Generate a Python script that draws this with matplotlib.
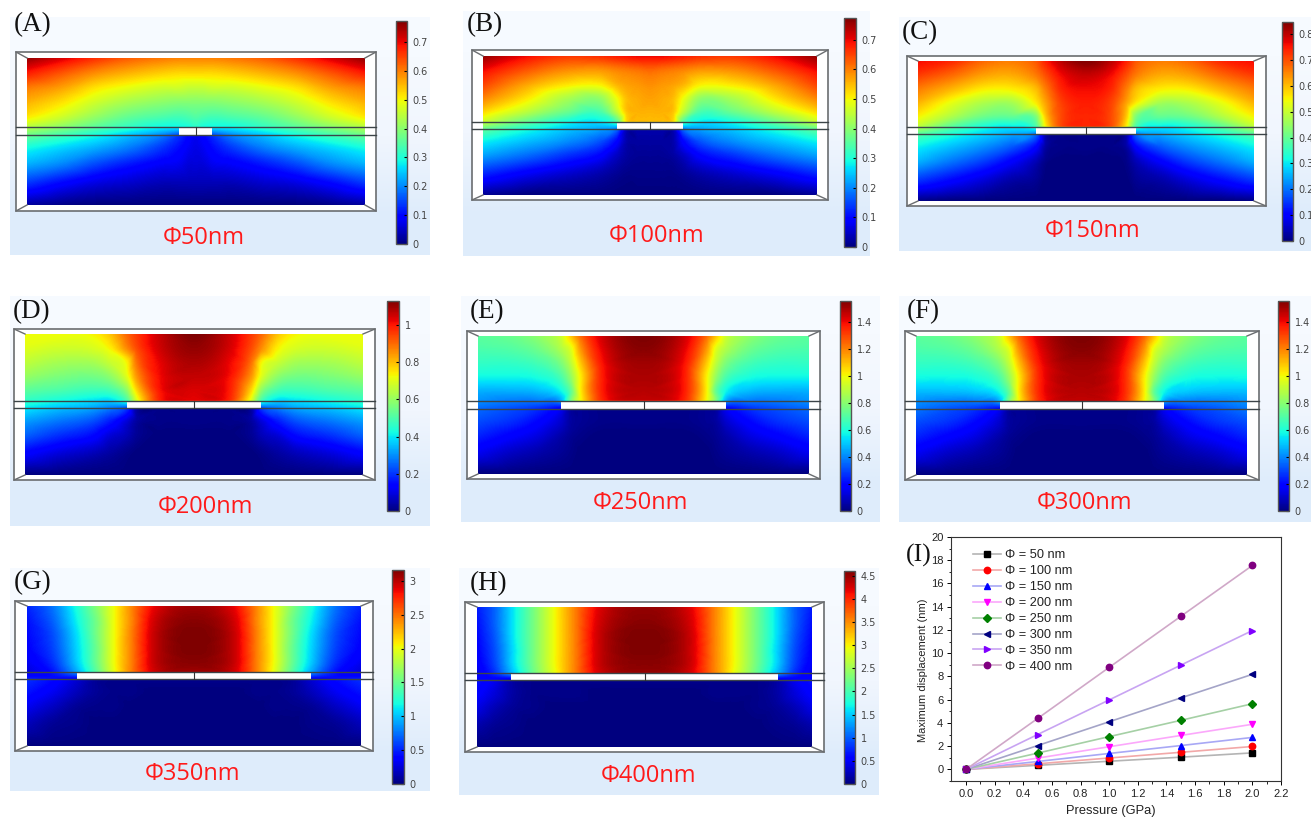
import matplotlib
matplotlib.use("Agg")
import matplotlib.pyplot as plt
from matplotlib.colors import LinearSegmentedColormap, Normalize
from matplotlib.cm import ScalarMappable
from matplotlib.patches import Rectangle
from matplotlib.tri import Triangulation, CubicTriInterpolator
import numpy as np

# rows of the field grids, 0 = top of the block, 1 = bottom
row_pos = [0, .1, .2, .3, .4, .47, .53, .62, .72, .85, 1]

# columns: 0 = left edge of the block, 1 = centre (the right half is a mirror)
cols_a = [0, .2, .4, .6, .8, .9, .96, 1]
field_a = [[.98, .92, .86, .81, .78, .77, .77, .77],
           [.88, .82, .76, .72, .69, .68, .68, .68],
           [.78, .74, .67, .63, .60, .60, .59, .59],
           [.72, .67, .60, .55, .52, .51, .51, .51],
           [.66, .60, .53, .47, .44, .43, .44, .45],
           [.57, .52, .46, .41, .37, .37, .38, .40],
           [.47, .42, .37, .31, .24, .17, .12, .10],
           [.37, .33, .29, .24, .17, .13, .10, .09],
           [.30, .26, .20, .15, .11, .10, .08, .08],
           [.18, .13, .09, .07, .05, .05, .05, .05],
           [.03, .01, 0, 0, 0, 0, 0, 0]]

cols_b = [0, .25, .5, .7, .8, .86, .93, 1]
field_b = [[.98, .90, .85, .86, .88, .89, .90, .90],
           [.90, .82, .76, .75, .77, .78, .79, .80],
           [.84, .74, .67, .66, .72, .74, .75, .76],
           [.77, .67, .56, .53, .64, .71, .73, .74],
           [.68, .58, .48, .44, .58, .70, .72, .72],
           [.60, .48, .38, .36, .46, .68, .71, .71],
           [.46, .38, .32, .28, .22, .05, .04, .04],
           [.36, .31, .26, .20, .12, .04, .03, .03],
           [.28, .23, .17, .12, .06, .03, .02, .02],
           [.16, .11, .07, .04, .02, .01, .01, .01],
           [.02, 0, 0, 0, 0, 0, 0, 0]]

cols_c = [0, .2, .4, .55, .7, .76, .85, 1]
field_c = [[.90, .87, .80, .78, .82, .88, .95, 1.0],
           [.85, .80, .74, .73, .78, .83, .90, .94],
           [.78, .72, .66, .66, .71, .78, .87, .90],
           [.72, .63, .56, .55, .66, .74, .84, .88],
           [.65, .56, .48, .47, .50, .70, .83, .87],
           [.58, .46, .38, .36, .44, .66, .83, .87],
           [.44, .38, .33, .29, .22, .04, .01, .01],
           [.36, .31, .26, .21, .12, .03, .01, .01],
           [.30, .24, .18, .12, .05, .01, 0, 0],
           [.18, .13, .08, .04, .02, 0, 0, 0],
           [.01, 0, 0, 0, 0, 0, 0, 0]]

cols_d = [0, .2, .4, .5, .6, .66, .8, 1]
field_d = [[.64, .64, .65, .70, .80, .85, .94, 1.0],
           [.62, .60, .61, .65, .76, .83, .93, .98],
           [.58, .55, .55, .59, .65, .79, .91, .96],
           [.53, .50, .49, .52, .62, .75, .90, .94],
           [.46, .44, .42, .43, .52, .68, .89, .92],
           [.41, .38, .35, .34, .44, .62, .88, .91],
           [.35, .31, .28, .24, .17, .03, .01, .01],
           [.28, .24, .20, .15, .08, .03, .01, .01],
           [.22, .17, .13, .08, .05, .02, 0, 0],
           [.12, .08, .05, .03, .01, 0, 0, 0],
           [0, 0, 0, 0, 0, 0, 0, 0]]

cols_e = [0, .2, .35, .5, .56, .62, .75, 1]
field_e = [[.46, .48, .52, .60, .70, .80, .93, 1.0],
           [.44, .45, .48, .56, .62, .75, .91, .99],
           [.41, .41, .43, .50, .58, .70, .89, .97],
           [.37, .37, .38, .44, .53, .66, .88, .96],
           [.30, .30, .31, .37, .47, .66, .88, .95],
           [.27, .25, .25, .30, .50, .65, .87, .94],
           [.23, .20, .17, .10, .03, .02, .01, .01],
           [.20, .17, .13, .07, .03, .02, .01, .01],
           [.16, .12, .09, .04, .02, .01, 0, 0],
           [.10, .06, .04, .02, .01, 0, 0, 0],
           [0, 0, 0, 0, 0, 0, 0, 0]]

cols_f = [0, .2, .35, .5, .56, .62, .75, 1]
field_f = [[.46, .48, .52, .60, .70, .80, .93, 1.0],
           [.44, .45, .48, .56, .62, .75, .91, .99],
           [.41, .41, .43, .50, .58, .70, .89, .97],
           [.37, .37, .38, .44, .53, .66, .88, .96],
           [.31, .31, .32, .37, .47, .66, .88, .95],
           [.27, .25, .25, .30, .50, .65, .87, .94],
           [.24, .20, .17, .10, .03, .02, .01, .01],
           [.20, .17, .13, .07, .03, .02, .01, .01],
           [.16, .12, .09, .04, .02, .01, 0, 0],
           [.10, .06, .04, .02, .01, 0, 0, 0],
           [0, 0, 0, 0, 0, 0, 0, 0]]

cols_g = [0, .15, .3, .42, .52, .62, .75, 1]
field_g = [[.16, .24, .39, .52, .64, .76, .90, .97],
           [.14, .22, .37, .50, .64, .76, .92, .99],
           [.13, .20, .35, .50, .64, .77, .93, 1.0],
           [.12, .19, .34, .49, .64, .77, .93, 1.0],
           [.10, .17, .33, .49, .64, .77, .93, .99],
           [.08, .14, .30, .47, .63, .77, .92, .97],
           [.17, .13, .07, .02, .01, .01, .01, .01],
           [.14, .10, .05, .02, .01, .01, 0, 0],
           [.10, .06, .02, .01, .01, 0, 0, 0],
           [.05, .02, .01, 0, 0, 0, 0, 0],
           [0, 0, 0, 0, 0, 0, 0, 0]]

cols_h = [0, .1, .22, .34, .46, .58, .72, 1]
field_h = [[.15, .22, .36, .50, .64, .77, .91, .98],
           [.14, .22, .36, .50, .64, .77, .92, .99],
           [.13, .21, .36, .50, .64, .77, .93, 1.0],
           [.12, .20, .35, .50, .64, .77, .93, 1.0],
           [.11, .19, .35, .50, .64, .77, .93, .99],
           [.09, .17, .33, .49, .63, .77, .92, .98],
           [.14, .10, .03, .01, .01, .01, .01, .01],
           [.12, .08, .03, .01, .01, .01, 0, 0],
           [.09, .05, .02, .01, 0, 0, 0, 0],
           [.04, .02, .01, 0, 0, 0, 0, 0],
           [0, 0, 0, 0, 0, 0, 0, 0]]

# colour bar top values and ticks
vmax_list = [.773, .773, .847, 1.13, 1.556, 1.556, 3.16, 4.6]
ticks_a = [0, .1, .2, .3, .4, .5, .6, .7]
ticks_c = [0, .1, .2, .3, .4, .5, .6, .7, .8]
ticks_d = [0, .2, .4, .6, .8, 1]
ticks_e = [0, .2, .4, .6, .8, 1, 1.2, 1.4]
ticks_g = [0, .5, 1, 1.5, 2, 2.5, 3]
ticks_h = [0, .5, 1, 1.5, 2, 2.5, 3, 3.5, 4, 4.5]

# panel I
pressure = [0, .5, 1, 1.5, 2]
disp_50 = [0, .35, .7, 1.05, 1.42]
disp_100 = [0, .48, .98, 1.47, 1.97]
disp_150 = [0, .68, 1.37, 2.05, 2.75]
disp_200 = [0, .97, 1.95, 2.92, 3.88]
disp_250 = [0, 1.4, 2.82, 4.22, 5.65]
disp_300 = [0, 2.05, 4.1, 6.15, 8.18]
disp_350 = [0, 3.0, 5.98, 8.97, 11.95]
disp_400 = [0, 4.38, 8.78, 13.17, 17.55]
sizes = [50, 100, 150, 200, 250, 300, 350, 400]

W, H = 1311, 817
fig = plt.figure(figsize=(W / 100, H / 100), dpi=100, facecolor='white')


def px_axes(x0, y0, x1, y1, **kw):
    # axes from pixel corners, y measured from the top of the image
    return fig.add_axes([x0 / W, 1 - y1 / H, (x1 - x0) / W, (y1 - y0) / H], **kw)


def smooth_part(x, rows, z, fx, fy):
    # cubic on triangles for one side of the slit, so the jump there does not ring
    gx, gy = np.meshgrid(x, rows)
    tri = Triangulation(gx.ravel(), gy.ravel())
    interp = CubicTriInterpolator(tri, np.ravel(z), kind='geom')
    return np.ma.filled(interp(fx, np.clip(fy, rows[0], rows[-1])), 0.0)


page = px_axes(0, 0, W, H, zorder=0)
over = px_axes(0, 0, W, H, zorder=5)
over.patch.set_alpha(0)
bg_cmap = LinearSegmentedColormap.from_list('bg', ['#f6faff', '#f1f6fe', '#deecfb'])

# geometry in pixels: background, outer box, inner block, slit lines, slit ends,
# colour bar, label position, caption position
layout = [
    ('(A)', 'Φ50nm', cols_a, field_a, ticks_a, (10, 17, 430, 255), (16, 52, 376, 211), (27, 58, 365, 205), (127, 135), (179, 212), (396, 21, 407, 244), (14, 25), (204, 238)),
    ('(B)', 'Φ100nm', cols_b, field_b, ticks_a, (463, 11, 870, 256), (472, 50, 828, 200), (483, 56, 817, 195), (122, 129), (617, 683), (844, 18, 856, 247), (467, 25), (657, 236)),
    ('(C)', 'Φ150nm', cols_c, field_c, ticks_c, (899, 17, 1311, 251), (907, 56, 1266, 206), (918, 61, 1254, 201), (127, 134), (1036, 1136), (1282, 22, 1293, 241), (902, 33), (1093, 231)),
    ('(D)', 'Φ200nm', cols_d, field_d, ticks_d, (10, 296, 430, 526), (14, 329, 375, 480), (25, 334, 363, 475), (401, 408), (127, 261), (387, 301, 399, 511), (13, 312), (205, 507)),
    ('(E)', 'Φ250nm', cols_e, field_e, ticks_e, (461, 296, 880, 522), (467, 331, 820, 479), (478, 336, 809, 474), (401, 409), (561, 726), (840, 301, 851, 511), (470, 312), (640, 503)),
    ('(F)', 'Φ300nm', cols_f, field_f, ticks_e, (899, 296, 1311, 522), (905, 331, 1259, 480), (916, 336, 1247, 475), (401, 409), (1000, 1164), (1278, 301, 1289, 511), (907, 312), (1085, 503)),
    ('(G)', 'Φ350nm', cols_g, field_g, ticks_g, (10, 568, 430, 791), (15, 601, 373, 751), (27, 606, 361, 746), (672, 679), (77, 311), (392, 570, 404, 784), (14, 583), (193, 774)),
    ('(H)', 'Φ400nm', cols_h, field_h, ticks_h, (459, 568, 879, 795), (465, 602, 824, 752), (477, 607, 812, 747), (673, 680), (511, 778), (844, 571, 855, 784), (470, 584), (648, 776)),
]
frame_col = '#6a6d70'

for (name, cap, cols, field, ticks, bg, box, inner, lines, slit, cb, lab, cpos), vmax in zip(layout, vmax_list):
    page.imshow([[0], [.5], [1]], extent=(bg[0], bg[2], bg[3], bg[1]), cmap=bg_cmap, aspect='auto', interpolation='bilinear')
    page.add_patch(Rectangle((box[0], box[1]), box[2] - box[0], box[3] - box[1], fc='white', ec='none', zorder=3))

    # field, left half
    u = np.array(cols, dtype=float) / 2
    x = np.concatenate([u, 1 - u[-2::-1]])
    z = np.array(field, dtype=float)
    z = np.hstack([z, z[:, -2::-1]])
    fx, fy = np.meshgrid(np.linspace(0, 1, inner[2] - inner[0]), np.linspace(0, 1, inner[3] - inner[1]))
    top = smooth_part(x, row_pos[:6], z[:6], fx, fy)
    low = smooth_part(x, row_pos[6:], z[6:], fx, fy)
    mix = np.clip((fy - row_pos[5]) / (row_pos[6] - row_pos[5]), 0, 1)
    zi = np.clip(top * (1 - mix) + low * mix, 0, 1)
    ax = px_axes(inner[0], inner[1], inner[2], inner[3], zorder=1)
    ax.imshow(zi * vmax, extent=(0, 1, 1, 0), aspect='auto', cmap='jet', vmin=0, vmax=vmax, interpolation='bilinear')
    ax.axis('off')

    # frame
    over.add_patch(Rectangle((box[0], box[1]), box[2] - box[0], box[3] - box[1], fc='none', ec=frame_col, lw=1.2))
    for cx, ix in ((box[0], inner[0]), (box[2], inner[2])):
        for cy, iy in ((box[1], inner[1]), (box[3], inner[3])):
            over.plot([cx, ix], [cy, iy], color=frame_col, lw=1.0)
    over.add_patch(Rectangle((slit[0], lines[0]), slit[1] - slit[0], lines[1] - lines[0], fc='white', ec='none'))
    for yy in lines:
        over.plot([box[0], box[2]], [yy, yy], color='#3c4448', lw=1.0)
    mid = (slit[0] + slit[1]) / 2
    over.plot([mid, mid], lines, color='#333333', lw=0.8)

    over.text(lab[0], lab[1], name, family='Liberation Serif', fontsize=19.5, color='#111111', ha='left', va='center')
    over.text(cpos[0], cpos[1], cap, family='Open Sans', fontsize=17, color='#ff1a1a', ha='center', va='center')

    # colour bar
    cax = px_axes(cb[0], cb[1], cb[2], cb[3], zorder=2)
    cbar = fig.colorbar(ScalarMappable(Normalize(0, vmax), 'jet'), cax=cax)
    cbar.set_ticks(ticks)
    cbar.set_ticklabels(['%g' % t for t in ticks])
    cax.tick_params(direction='in', length=2, width=0.8, color='black', labelsize=7, labelcolor='#444444', pad=4)
    cbar.outline.set_edgecolor('#555555')
    cbar.outline.set_linewidth(1.0)

page.set_xlim(0, W)
page.set_ylim(H, 0)
page.axis('off')
over.set_xlim(0, W)
over.set_ylim(H, 0)
over.axis('off')
over.text(906, 555, '(I)', family='Liberation Serif', fontsize=18.5, color='#111111', ha='left', va='center')

# panel I
axi = px_axes(951, 537, 1281, 781, zorder=3)
series = [disp_50, disp_100, disp_150, disp_200, disp_250, disp_300, disp_350, disp_400]
markers = ['s', 'o', '^', 'v', 'D', '<', '>', 'o']
mark_cols = ['black', 'red', 'blue', 'magenta', 'green', 'navy', '#8000ff', 'purple']
line_cols = ['#b4b4b4', '#f2a8a8', '#a8a8f5', '#fba8fb', '#a5d0a5', '#a4a4c8', '#c8a4f2', '#d0a8c8']
for s, d, m, mc, lc in zip(sizes, series, markers, mark_cols, line_cols):
    axi.plot(pressure, d, color=lc, lw=1.2, marker=m, mfc=mc, mec=mc, ms=4.6 if m != 'D' else 3.8, label='Φ = %d nm' % s)

axi.set_xlim(-0.105, 2.2)
axi.set_ylim(-1, 20)
axi.set_xticks(np.arange(0, 2.3, 0.2))
axi.set_xticks(np.arange(0.1, 2.2, 0.2), minor=True)
axi.set_yticks(range(0, 21, 2))
axi.set_yticks(range(-1, 20, 2), minor=True)
axi.xaxis.set_major_formatter('{x:.1f}')
for lbl_ax in ('x', 'y'):
    axi.tick_params(axis=lbl_ax, which='major', length=3, width=0.7, labelsize=8, pad=2.5, labelcolor='#222222')
    axi.tick_params(axis=lbl_ax, which='minor', length=1.8, width=0.6)
for t in axi.get_xticklabels() + axi.get_yticklabels():
    t.set_family('Liberation Sans')
for sp in axi.spines.values():
    sp.set_linewidth(0.8)
    sp.set_color('#333333')
axi.set_xlabel('Pressure (GPa)', family='Liberation Sans', fontsize=9.3, color='#222222')
axi.set_ylabel('Maximum displacement (nm)', family='Liberation Sans', fontsize=8.0, color='#222222')
axi.xaxis.set_label_coords(0.483, -0.098)
axi.yaxis.set_label_coords(-0.07, 0.455)
leg = axi.legend(loc='upper left', bbox_to_anchor=(0.066, 0.95), frameon=False, ncol=1,
                 prop={'family': 'Liberation Sans', 'size': 9.2}, handlelength=2.2,
                 handletextpad=0.35, labelspacing=0.31, borderpad=0, borderaxespad=0)
for t in leg.get_texts():
    t.set_color('#222222')

fig.savefig('out.png', dpi=100)
